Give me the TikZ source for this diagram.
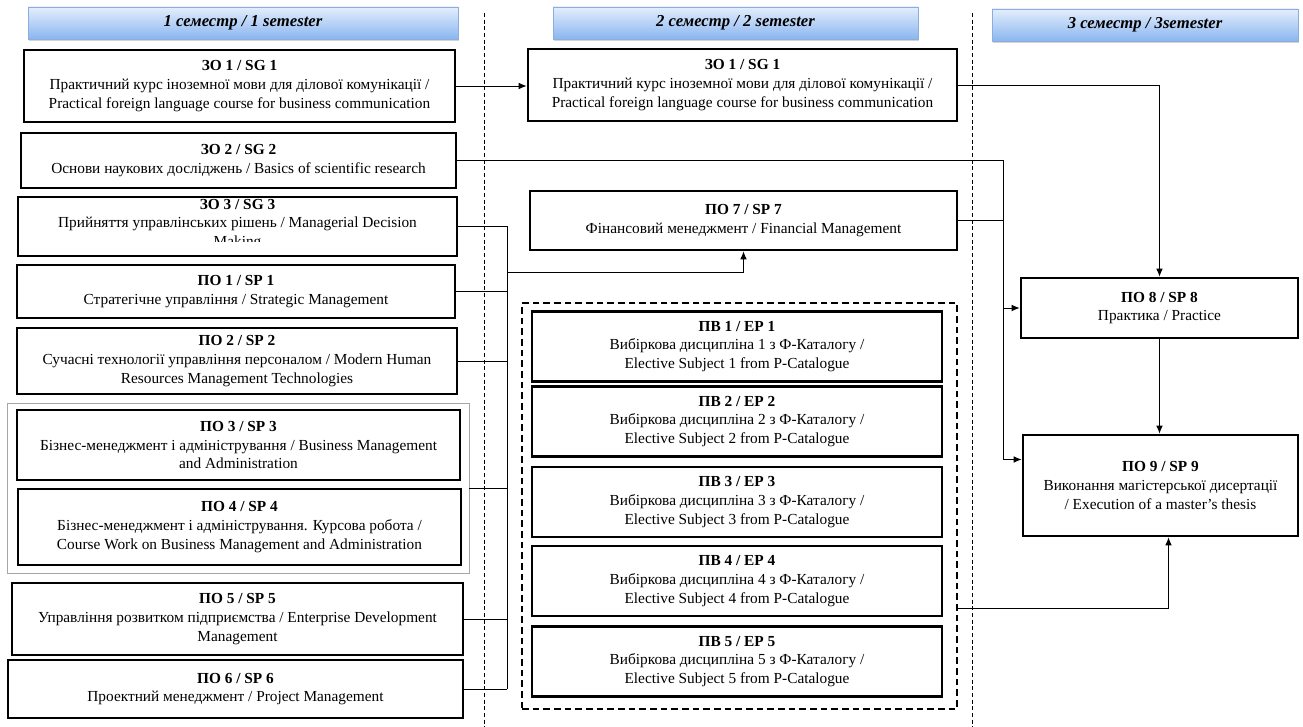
\documentclass[tikz,border=0pt]{standalone}
\usepackage{fontspec}
\setmainfont{Liberation Serif}
\usetikzlibrary{shadows,arrows.meta}

\definecolor{semtop}{HTML}{E4EEFC}
\definecolor{sembot}{HTML}{8AB6F0}
\definecolor{semline}{HTML}{8CAEDC}

\tikzset{
  box/.style={draw,line width=2pt,fill=white,align=center,inner sep=2pt,
    font=\fontsize{11.5}{14}\selectfont},
  elbox/.style={box,line width=1.8pt},
  sem/.style={draw=semline,line width=0.6pt,top color=semtop,bottom color=sembot,
    drop shadow={shadow xshift=1pt,shadow yshift=-1.5pt,opacity=.35},
    font=\fontsize{12.5}{14}\selectfont\bfseries\itshape},
  sep/.style={dash pattern=on 3pt off 2pt,line width=0.6pt},
  link/.style={line width=0.7pt},
}

\begin{document}
\begin{tikzpicture}[x=0.75pt,y=-0.75pt,>={Latex[length=6pt,width=5pt]}]
\useasboundingbox (0,0) rectangle (1303,727);

% semester headers
\node[sem,minimum width=322.5pt,minimum height=24pt] (sem1) at (243,23) {1 семестр / 1 semester};
\node[sem,minimum width=273.75pt,minimum height=24pt] (sem2) at (735.5,23) {2 семестр / 2 semester};
\node[sem,minimum width=229.5pt,minimum height=24pt] (sem3) at (1145,25) {3 семестр / 3semester};

% borders between semesters
\draw[sep] (484,13) -- (484,727);
\draw[sep] (972,13) -- (972,727);

% first semester
\node[box,minimum width=323.25pt,minimum height=54pt] (sg1) at (239.5,86)
  {\textbf{ЗО 1 / SG 1}\\Практичний курс іноземної мови для ділової комунікації /\\Practical foreign language course for business communication};
\node[box,minimum width=326.25pt,minimum height=41.25pt] (sg2) at (238.5,160.5)
  {\textbf{ЗО 2 / SG 2}\\Основи наукових досліджень / Basics of scientific research};
% text of SG 3 is cut by its box
\node[box,minimum width=329.25pt,minimum height=44.25pt,path picture={
    \clip (path picture bounding box.north west) rectangle ([yshift=11pt]path picture bounding box.south east);
    \node[draw=none,fill=none,align=center,inner sep=0pt,font=\fontsize{11.5}{14}\selectfont]
      at ([yshift=1.5pt]path picture bounding box.center)
      {\textbf{ЗО 3 / SG 3}\\Прийняття управлінських рішень / Managerial Decision\\Making};}] (sg3) at (237.5,226.5) {};
\node[box,minimum width=328.5pt,minimum height=39.75pt] (sp1) at (236,291.5)
  {\textbf{ПО 1 / SP 1}\\Стратегічне управління / Strategic Management};
\node[box,minimum width=330pt,minimum height=49.5pt] (sp2) at (237,361)
  {\textbf{ПО 2 / SP 2}\\Сучасні технології управління персоналом / Modern Human\\Resources Management Technologies};
% thin frame round SP 3 and SP 4
\node[draw=gray!70,line width=0.6pt,minimum width=346.5pt,minimum height=127.5pt] (grp) at (238,488) {};
\node[box,minimum width=332.25pt,minimum height=52.5pt] (sp3) at (238.5,445)
  {\textbf{ПО 3 / SP 3}\\Бізнес-менеджмент  і адміністрування  / Business Management\\and Administration};
\node[box,minimum width=332.25pt,minimum height=57pt] (sp4) at (239.5,527)
  {\textbf{ПО 4 / SP 4}\\Бізнес-менеджмент  і адміністрування.  Курсова робота /\\Course Work on Business Management and Administration};
\node[box,minimum width=338.25pt,minimum height=54pt] (sp5) at (237.5,619)
  {\textbf{ПО 5 / SP 5}\\Управління  розвитком підприємства  / Enterprise Development\\Management};
\node[box,minimum width=341.25pt,minimum height=43.5pt] (sp6) at (235.5,689)
  {\textbf{ПО 6 / SP 6}\\Проектний  менеджмент  / Project Management};

% second semester
\node[box,minimum width=321.75pt,minimum height=54pt] (sg1b) at (742.5,85)
  {\textbf{ЗО 1 / SG 1}\\Практичний  курс іноземної мови для ділової комунікації /\\Practical  foreign language course for business communication};
\node[box,minimum width=320.25pt,minimum height=44.25pt] (sp7) at (743.5,220.5)
  {\textbf{ПО 7 / SP 7}\\Фінансовий  менеджмент  / Financial Management};
% elective subjects
\node[draw,line width=2pt,dash pattern=on 5pt off 3pt,minimum width=326.25pt,minimum height=304.5pt] (elect) at (739.5,506) {};
\foreach \i/\y in {1/346.5,2/421.5,3/502,4/581,5/661.5}
  \node[elbox,minimum width=307.5pt,minimum height=52.5pt] (ep\i) at (737,\y)
    {\textbf{ПВ \i\ / EP \i}\\Вибіркова дисципліна  \i\ з Ф-Каталогу /\\Elective  Subject \i\ from P-Catalogue};

% third semester
\node[box,minimum width=207.75pt,minimum height=45pt] (sp8) at (1159.5,308)
  {\textbf{ПО 8 / SP 8}\\Практика / Practice};
\node[box,minimum width=206.25pt,minimum height=75.75pt] (sp9) at (1160.5,485.5)
  {\textbf{ПО 9 / SP 9}\\Виконання  магістерської дисертації\\/ Execution  of a master's  thesis};

% links of the first semester
\draw[link,->] (sg1.east) -- (sg1.east -| sg1b.west);
\coordinate (lbus) at (507,228);
\coordinate (lout) at (507,272);
\draw[link] (sg3.east) -- (sg3.east -| lbus);
\draw[link] (lbus |- sg3.east) -- (lbus |- sp6.east);
\draw[link] (sp1.east) -- (sp1.east -| lbus);
\draw[link] (sp2.east) -- (sp2.east -| lbus);
\draw[link] (grp.east) -- (grp.east -| lbus);
\draw[link] (sp5.east) -- (sp5.east -| lbus);
\draw[link] (sp6.east) -- (sp6.east -| lbus);
\draw[link,->] (lout) -| (sp7.south);

% links to the third semester
\coordinate (rbus) at (1003,160.5);
\draw[link] (sg2.east) -- (rbus);
\draw[link] (sp7.east) -- (sp7.east -| rbus);
\draw[link,->] (rbus) |- (sp8.west);
\draw[link,->] (rbus) |- ([yshift=19.5pt]sp9.west);
\draw[link,->] (sg1b.east) -| (sp8.north);
\draw[link,->] (sp8.south) -- (sp8.south |- sp9.north);
\coordinate (eout) at (957,608);
\draw[link,->] (eout) -| ([xshift=6pt]sp9.south);

\end{tikzpicture}
\end{document}
